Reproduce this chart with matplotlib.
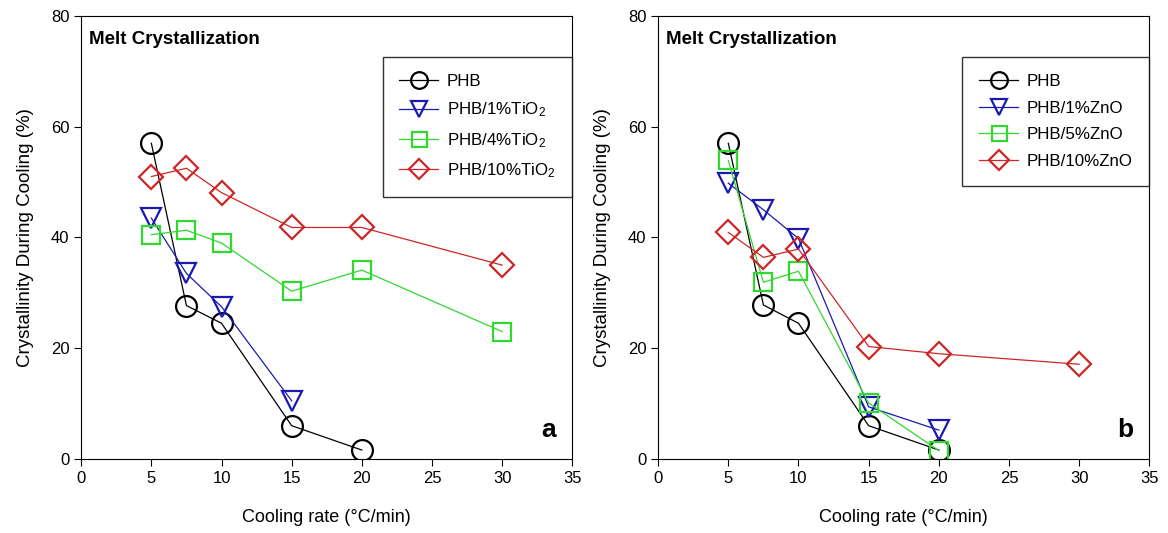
import matplotlib
matplotlib.use('Agg')
import matplotlib.pyplot as plt

plt.rcParams['font.family'] = ['Liberation Sans', 'DejaVu Sans']
plt.rcParams['mathtext.fontset'] = 'custom'
plt.rcParams['mathtext.rm'] = 'Liberation Sans'
plt.rcParams['mathtext.it'] = 'Liberation Sans:italic'
plt.rcParams['mathtext.bf'] = 'Liberation Sans:bold'

# panel a: TiO2
rate_a = {
    'PHB': [5, 7.5, 10, 15, 20],
    'PHB/1%TiO$_2$': [5, 7.5, 10, 15],
    'PHB/4%TiO$_2$': [5, 7.5, 10, 15, 20, 30],
    'PHB/10%TiO$_2$': [5, 7.5, 10, 15, 20, 30],
}
cryst_a = {
    'PHB': [57.0, 27.7, 24.5, 6.0, 1.6],
    'PHB/1%TiO$_2$': [43.5, 33.5, 27.5, 10.5],
    'PHB/4%TiO$_2$': [40.5, 41.3, 39.0, 30.3, 34.1, 23.0],
    'PHB/10%TiO$_2$': [51.0, 52.5, 48.1, 41.8, 41.8, 35.0],
}

# panel b: ZnO
rate_b = {
    'PHB': [5, 7.5, 10, 15, 20],
    'PHB/1%ZnO': [5, 7.5, 10, 15, 20],
    'PHB/5%ZnO': [5, 7.5, 10, 15, 20],
    'PHB/10%ZnO': [5, 7.5, 10, 15, 20, 30],
}
cryst_b = {
    'PHB': [57.0, 27.8, 24.5, 6.0, 1.6],
    'PHB/1%ZnO': [49.8, 45.0, 39.8, 9.4, 5.2],
    'PHB/5%ZnO': [53.9, 31.9, 33.9, 10.1, 1.5],
    'PHB/10%ZnO': [40.9, 36.4, 37.9, 20.3, 19.0, 17.1],
}

styles = [
    dict(marker='o', color='black', ms=15),
    dict(marker='v', color='#1a1ab0', ms=15),
    dict(marker='s', color='#30d830', ms=13.5),
    dict(marker='D', color='#cc2626', ms=12.5),
]

fig = plt.figure(figsize=(11.68, 5.33), dpi=100)
ax_a = fig.add_axes([0.0695, 0.139, 0.4205, 0.831])
ax_b = fig.add_axes([0.5635, 0.139, 0.4205, 0.831])


def draw(ax, rates, crys, letter):
    for (name, xs), st in zip(rates.items(), styles):
        ax.plot(xs, crys[name], marker=st['marker'], color=st['color'], lw=0.9,
                ms=st['ms'], mfc='none', mec=st['color'], mew=1.6, label=name)
    ax.set_xlim(0, 35)
    ax.set_ylim(0, 80)
    ax.set_xticks(range(0, 36, 5))
    ax.set_yticks(range(0, 81, 20))
    ax.tick_params(direction='out', length=5, labelsize=12)
    ax.set_xlabel('Cooling rate (°C/min)', fontsize=13, labelpad=17)
    ax.set_ylabel('Crystallinity During Cooling (%)', fontsize=13.5, labelpad=12)
    ax.text(0.015, 0.946, 'Melt Crystallization', transform=ax.transAxes,
            fontsize=13.5, fontweight='bold', va='center')
    ax.text(0.967, 0.066, letter, transform=ax.transAxes, fontsize=19,
            fontweight='bold', ha='right', va='center')
    leg = ax.legend(loc='upper right', bbox_to_anchor=(1.0, 0.907), borderaxespad=0,
                    fontsize=12.2, frameon=True, fancybox=False, edgecolor='black',
                    handlelength=2.3, handletextpad=0.5, borderpad=1.0,
                    labelspacing=0.68, markerscale=0.8)
    leg.get_frame().set_linewidth(1.0)


draw(ax_a, rate_a, cryst_a, 'a')
draw(ax_b, rate_b, cryst_b, 'b')

fig.savefig('out.png', dpi=100)
